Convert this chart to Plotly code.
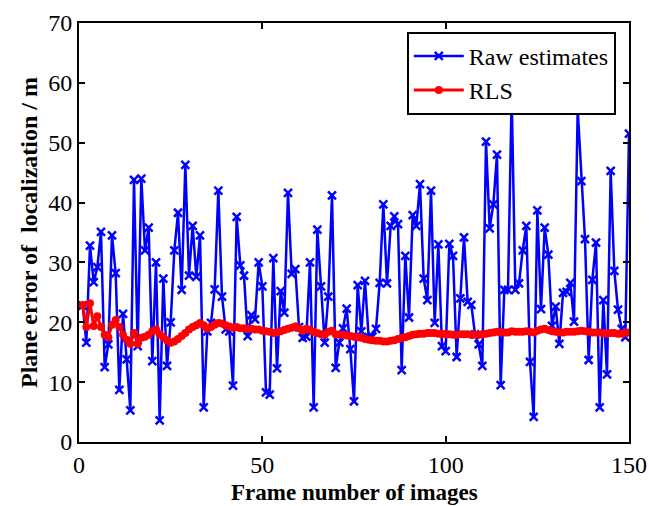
import plotly.graph_objects as go

frames = list(range(1, 151))

raw_estimates = [
    22.8, 16.6, 32.8, 26.7, 29.2, 35.1, 12.5, 16.3, 34.5, 28.2,
    8.7, 21.4, 13.8, 5.3, 43.8, 16.0, 44.0, 32.0, 35.8, 13.5,
    30.0, 3.6, 27.3, 12.7, 20.0, 32.0, 38.3, 25.4, 46.3, 27.8,
    36.1, 27.6, 34.5, 5.8, 18.5, 19.9, 25.5, 42.0, 24.3, 18.8,
    18.5, 9.4, 37.6, 29.5, 27.8, 17.7, 21.2, 20.5, 30.0, 26.0,
    8.3, 7.9, 30.7, 12.3, 25.2, 21.6, 41.6, 28.1, 28.9, 19.2,
    17.4, 17.6, 30.0, 5.8, 35.5, 26.0, 16.6, 24.3, 41.2, 12.4,
    16.6, 19.0, 22.3, 15.5, 6.8, 26.2, 18.5, 26.9, 17.5, 17.6,
    18.9, 26.6, 39.7, 26.5, 36.1, 37.7, 36.4, 12.0, 31.1, 20.8,
    37.9, 36.1, 43.1, 27.3, 23.7, 42.0, 19.9, 33.0, 16.0, 15.2,
    33.1, 31.1, 14.2, 24.0, 34.2, 23.4, 22.9, 18.0, 16.3, 12.7,
    50.2, 35.7, 39.7, 48.0, 9.5, 25.4, 25.4, 58.0, 25.4, 26.5,
    32.0, 36.1, 13.4, 4.2, 38.7, 22.2, 35.8, 31.3, 19.4, 22.6,
    16.4, 24.9, 25.1, 26.6, 20.1, 55.6, 43.6, 33.9, 13.7, 27.1,
    33.3, 5.8, 23.7, 11.3, 45.3, 28.6, 22.1, 18.9, 17.5, 51.5,
]

rls = [
    22.9, 19.2, 23.2, 19.4, 21.0, 19.2, 17.9, 17.5, 19.6, 20.4,
    19.2, 17.9, 17.1, 16.4, 18.2, 16.4, 17.4, 17.6, 17.9, 18.5,
    18.8, 18.0, 17.5, 17.0, 16.6, 16.8, 17.2, 17.7, 18.2, 18.8,
    19.2, 19.5, 19.9, 19.5, 18.9, 19.2, 19.6, 19.9, 19.8, 19.5,
    19.3, 19.1, 19.2, 19.0, 19.0, 18.9, 18.9, 18.8, 18.8, 18.6,
    18.5, 18.4, 18.2, 18.3, 18.5, 18.7, 18.9, 19.1, 19.3, 19.0,
    18.6, 18.9, 18.7, 18.4, 18.2, 18.0, 17.9, 18.4, 18.6, 18.0,
    17.9, 17.9, 17.8, 17.7, 17.6, 17.5, 17.4, 17.2, 17.1, 17.0,
    16.9, 16.9, 16.8, 16.8, 16.9, 17.0, 17.2, 17.4, 17.5, 17.7,
    17.9, 18.0, 18.1, 18.1, 18.2, 18.2, 18.2, 18.1, 18.1, 18.0,
    18.0, 17.9, 17.9, 18.0, 18.0, 18.0, 17.9, 17.9, 17.9, 18.0,
    18.1, 18.2, 18.3, 18.4, 18.3, 18.3, 18.3, 18.5, 18.4, 18.4,
    18.4, 18.5, 18.4, 18.3, 18.6, 18.8, 18.9, 18.7, 18.5, 18.4,
    18.3, 18.3, 18.4, 18.4, 18.4, 18.5, 18.6, 18.5, 18.4, 18.3,
    18.3, 18.3, 18.2, 18.1, 18.2, 18.2, 18.1, 18.1, 18.2, 18.3,
]

x_ticks = [0, 50, 100, 150]
y_ticks = [0, 10, 20, 30, 40, 50, 60, 70]

FONT = "Times New Roman, Liberation Serif, serif"

fig = go.Figure()
fig.add_trace(go.Scatter(
    x=frames, y=raw_estimates, name="Raw estimates", mode="lines+markers",
    line=dict(color="#0000ff", width=2.5),
    marker=dict(symbol="x-thin", size=8, color="#0000ff",
                line=dict(color="#0000ff", width=2.5)),
))
fig.add_trace(go.Scatter(
    x=frames, y=rls, name="RLS", mode="lines+markers",
    line=dict(color="#ff0000", width=3),
    marker=dict(symbol="circle", size=8, color="#ff0000"),
))

axis_common = dict(
    showgrid=False, zeroline=False, showline=True, linecolor="black",
    linewidth=2, mirror="allticks", ticks="inside", ticklen=6,
    tickwidth=1.5, tickcolor="black", automargin=False,
    tickfont=dict(family=FONT, size=24, color="black"),
)

fig.update_layout(
    width=649, height=506,
    margin=dict(l=79, r=20, t=23, b=64),
    paper_bgcolor="white", plot_bgcolor="white",
    font=dict(family=FONT, color="black"),
    showlegend=True,
    legend=dict(
        x=0.976, y=0.979, xanchor="right", yanchor="top",
        bgcolor="white", bordercolor="black", borderwidth=2,
        font=dict(family=FONT, size=24, color="black"),
        tracegroupgap=0, itemwidth=50,
    ),
    xaxis=dict(range=[0, 150], tickvals=x_ticks, **axis_common),
    yaxis=dict(
        range=[0, 70], tickvals=y_ticks,
        title=dict(text="<b>Plane error of  localization / m</b>",
                   font=dict(family=FONT, size=24, color="black"), standoff=4),
        **axis_common,
    ),
    annotations=[dict(
        text="<b>Frame number of images</b>", xref="paper", yref="paper",
        x=0.5, y=-0.12, xanchor="center", yanchor="middle", showarrow=False,
        font=dict(family=FONT, size=23, color="black"),
    )],
)

fig.write_html("out.html")
